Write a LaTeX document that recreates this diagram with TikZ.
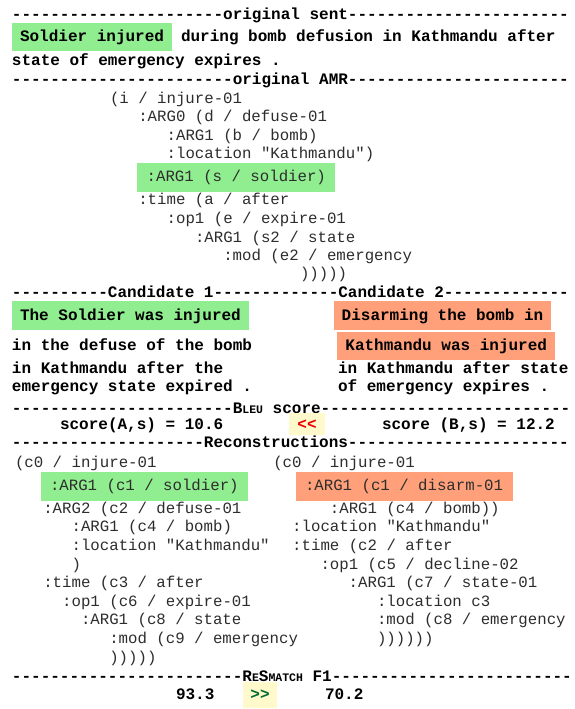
\documentclass[tikz,border=0pt]{standalone}
\usepackage{fontspec}
\setmonofont{Liberation Mono}
\definecolor{hlgreen}{RGB}{144,238,144}
\definecolor{hlsalmon}{RGB}{255,160,122}
\definecolor{hlyellow}{RGB}{255,249,204}
\definecolor{amrgray}{RGB}{45,45,45}
\definecolor{gtgreen}{RGB}{0,110,50}
\definecolor{ltred}{RGB}{235,0,0}
\newcommand\scb[1]{{\fontsize{11.5}{12}\selectfont #1}}
\frenchspacing
\begin{document}
\begin{tikzpicture}[x=1pt,y=-1pt,
  every node/.style={inner sep=0pt, outer sep=0pt, anchor=base west},
  bt/.style={font={\ttfamily\bfseries\fontsize{16}{18}\selectfont}, text=black},
  amr/.style={font={\ttfamily\fontsize{15.72}{18}\selectfont}, text=amrgray},
  hlb/.style={bt, inner xsep=8pt, text height=18.7pt, text depth=9.5pt},
  hla/.style={amr, inner xsep=9.5pt, text height=18.5pt, text depth=10.5pt},
  hly/.style={bt, fill=hlyellow, inner xsep=8.4pt, text height=16.2pt, text depth=5.5pt}
]
\useasboundingbox (0,0) rectangle (574,709);
\fill[white] (0,0) rectangle (574,709);

% headers
\node[bt] (h1) at (12,19.5) {----------------------original sent-----------------------};
\node[bt] (h2) at (12,84.5) {-----------------------original AMR-----------------------};
\node[bt] (h3) at (12,297.5) {----------Candidate 1-------------Candidate 2-------------};
\node[bt] (h4) at (12,413) {-----------------------B\scb{LEU} score--------------------------};
\node[bt] (h5) at (12,447.5) {--------------------Reconstructions-----------------------};
\node[bt] (h6) at (12,681) {------------------------R\scb{E}S\scb{MATCH} F1-------------------------};

% original sentence
\node[hlb, fill=hlgreen] (s1) at (12,42) {Soldier injured};
\node[bt] (s2) at (181,42) {during bomb defusion in Kathmandu after};
\node[bt] (s3) at (12,65.5) {state of emergency expires .};

% original AMR
\node[amr] (a1) at (110,103.5) {(i / injure-01};
\node[amr] (a2) at (138.3,121.8) {:ARG0 (d / defuse-01};
\node[amr] (a3) at (166.7,140.6) {:ARG1 (b / bomb)};
\node[amr] (a4) at (166.7,158.3) {:location "Kathmandu")};
\node[hla, fill=hlgreen] (a5) at (137.2,181.5) {:ARG1 (s / soldier)};
\node[amr] (a6) at (138.3,204.3) {:time (a / after};
\node[amr] (a7) at (166.7,223.2) {:op1 (e / expire-01};
\node[amr] (a8) at (195,242.5) {:ARG1 (s2 / state};
\node[amr] (a9) at (223.3,260.5) {:mod (e2 / emergency};
\node[amr] (a10) at (300,278.8) {)))))};

% candidates
\node[hlb, fill=hlgreen] (c1a) at (12,320) {The Soldier was injured};
\node[hlb, fill=hlsalmon] (c2a) at (333.7,320) {Disarming the bomb in};
\node[bt] (c1b) at (12,350.5) {in the defuse of the bomb};
\node[hlb, fill=hlsalmon] (c2b) at (337.4,350.5) {Kathmandu was injured};
\node[bt] (c1c) at (12,373.5) {in Kathmandu after the};
\node[bt] (c2c) at (338,373.5) {in Kathmandu after state};
\node[bt] (c1d) at (12,391.5) {emergency state expired .};
\node[bt] (c2d) at (338,391.5) {of emergency expires .};

% bleu scores
\node[bt] (b1) at (60,429.5) {score(A,s) = 10.6};
\node[hly, text=ltred] (b2) at (289,429.5) {<<};
\node[bt] (b3) at (382,429.5) {score (B,s) = 12.2};

% reconstruction left
\node[amr] (l1) at (15,467.5) {(c0 / injure-01};
\node[hla, fill=hlgreen] (l2) at (40.5,490) {:ARG1 (c1 / soldier)};
\node[amr] (l3) at (43.3,513) {:ARG2 (c2 / defuse-01};
\node[amr] (l4) at (71.6,531.7) {:ARG1 (c4 / bomb)};
\node[amr] (l5) at (71.6,550.4) {:location "Kathmandu"};
\node[amr] (l6) at (71.6,569.5) {)};
\node[amr] (l7) at (43.3,587.4) {:time (c3 / after};
\node[amr] (l8) at (62.2,606.4) {:op1 (c6 / expire-01};
\node[amr] (l9) at (81,624.7) {:ARG1 (c8 / state};
\node[amr] (l10) at (109.3,643.4) {:mod (c9 / emergency};
\node[amr] (l11) at (109.3,662.8) {)))))};

% reconstruction right
\node[amr] (r1) at (273.3,467.5) {(c0 / injure-01};
\node[hla, fill=hlsalmon] (r2) at (295.5,490) {:ARG1 (c1 / disarm-01};
\node[amr] (r3) at (329.9,513) {:ARG1 (c4 / bomb))};
\node[amr] (r4) at (292.2,531.7) {:location "Kathmandu"};
\node[amr] (r5) at (292.2,550.4) {:time (c2 / after};
\node[amr] (r6) at (320.5,569.5) {:op1 (c5 / decline-02};
\node[amr] (r7) at (348.7,587.4) {:ARG1 (c7 / state-01};
\node[amr] (r8) at (377,606.4) {:location c3};
\node[amr] (r9) at (377,624.7) {:mod (c8 / emergency};
\node[amr] (r10) at (377,643.4) {))))))};

% resmatch
\node[bt] (m1) at (176,699) {93.3};
\node[hly, text=gtgreen, inner xsep=7.4pt, text height=17pt, text depth=9pt] (m2) at (243,699) {>>};
\node[bt] (m3) at (325,699) {70.2};
\end{tikzpicture}
\end{document}
